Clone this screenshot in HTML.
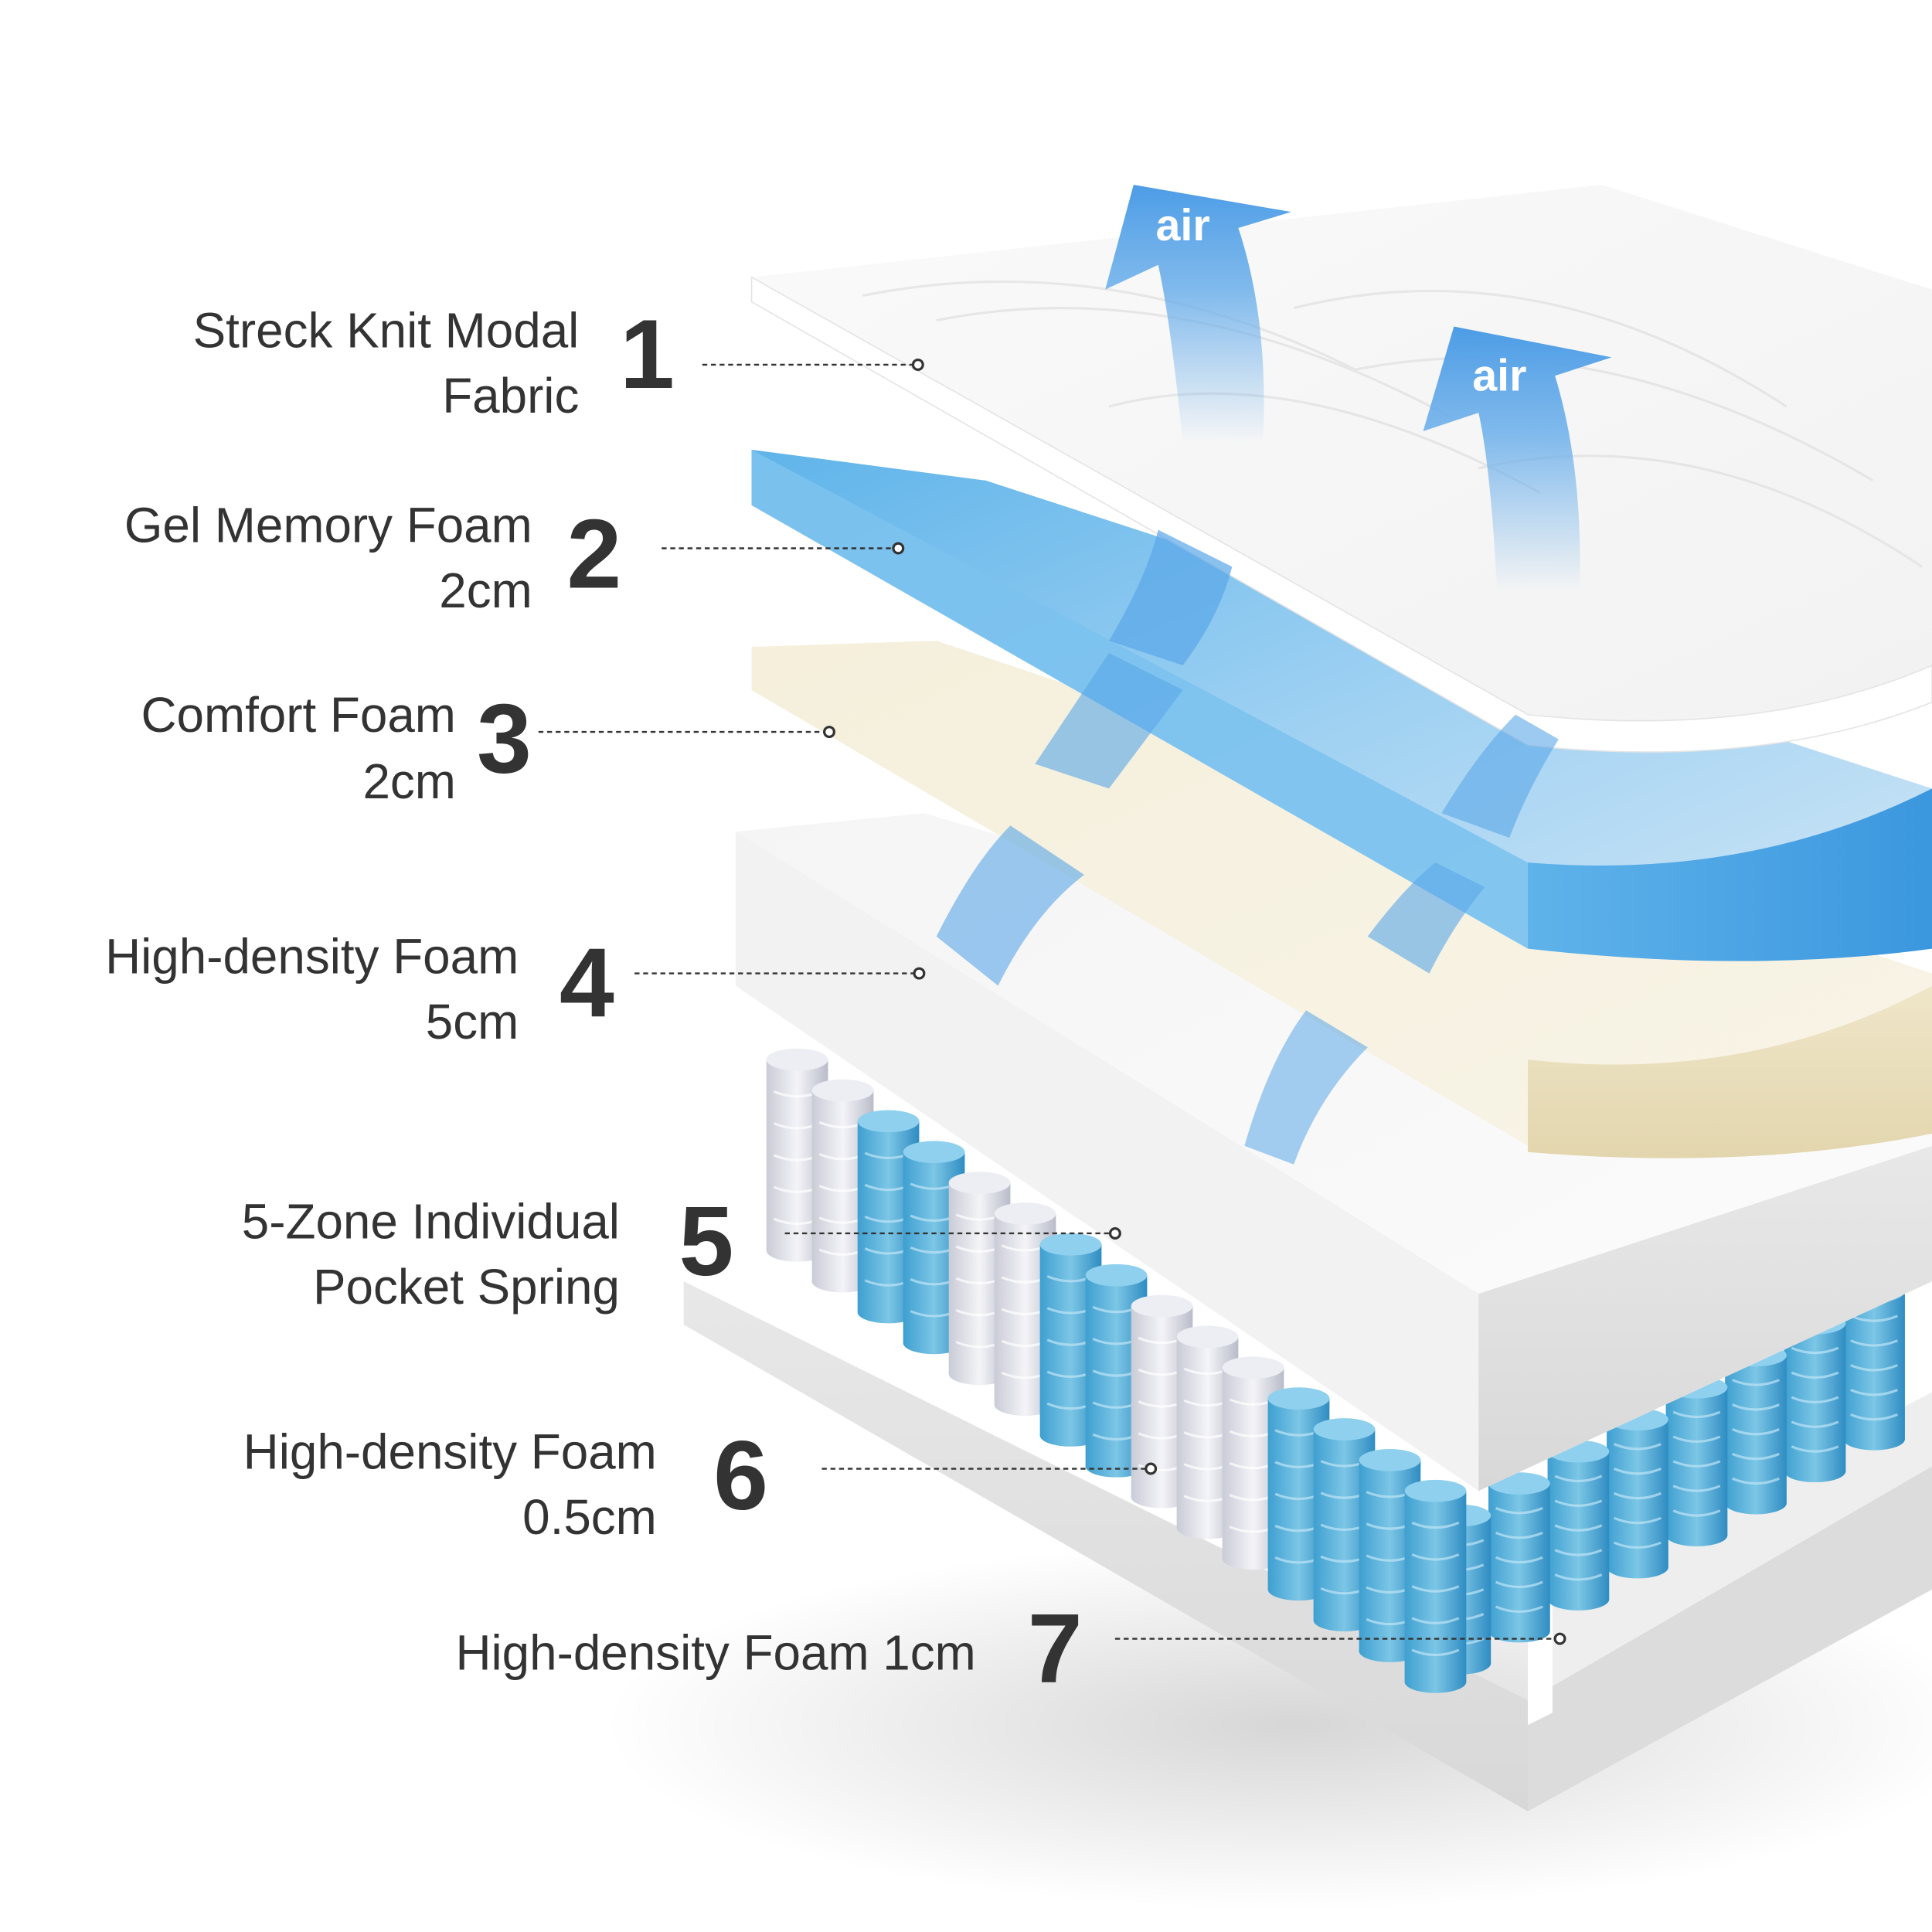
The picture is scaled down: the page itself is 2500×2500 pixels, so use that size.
<!DOCTYPE html>
<html><head><meta charset="utf-8"><style>
html,body{margin:0;padding:0;background:#fff}
svg{display:block}
text{font-family:"Liberation Sans",sans-serif}
</style></head><body>
<svg id="s" width="2500" height="2500" viewBox="0 0 1568 1568" xmlns="http://www.w3.org/2000/svg">
<defs>
<radialGradient id="sh" cx="0.5" cy="0.5" r="0.5"><stop offset="0" stop-color="#000" stop-opacity="0.16"/><stop offset="1" stop-color="#000" stop-opacity="0"/></radialGradient>
<linearGradient id="blueTop" x1="0" y1="0" x2="1" y2="1"><stop offset="0" stop-color="#5fb4ea"/><stop offset="0.5" stop-color="#9dd0f2"/><stop offset="1" stop-color="#cfe6f6"/></linearGradient>
<linearGradient id="blueEdge" x1="0" y1="0" x2="1" y2="0"><stop offset="0" stop-color="#5fb3ea"/><stop offset="1" stop-color="#3b97de"/></linearGradient>
<linearGradient id="cream" x1="0" y1="0" x2="1" y2="1"><stop offset="0" stop-color="#f5efdc"/><stop offset="1" stop-color="#f8f4e6"/></linearGradient>
<linearGradient id="creamEdge" x1="0" y1="0" x2="0" y2="1"><stop offset="0" stop-color="#efe6c9"/><stop offset="1" stop-color="#e3d6ae"/></linearGradient>
<linearGradient id="foamTop" x1="0" y1="0" x2="1" y2="1"><stop offset="0" stop-color="#f5f5f5"/><stop offset="1" stop-color="#fcfcfc"/></linearGradient>
<linearGradient id="foamSide" x1="0" y1="0" x2="0" y2="1"><stop offset="0" stop-color="#e8e8e8"/><stop offset="1" stop-color="#d8d8d8"/></linearGradient>
<linearGradient id="fabric" x1="0" y1="0" x2="1" y2="1"><stop offset="0" stop-color="#fafafa"/><stop offset="1" stop-color="#f2f2f2"/></linearGradient>
<linearGradient id="cylB" x1="0" y1="0" x2="1" y2="0"><stop offset="0" stop-color="#3e9fd0"/><stop offset="0.5" stop-color="#7cc6e6"/><stop offset="1" stop-color="#2f8cc2"/></linearGradient>
<linearGradient id="cylW" x1="0" y1="0" x2="1" y2="0"><stop offset="0" stop-color="#c9cbd6"/><stop offset="0.5" stop-color="#f4f4f8"/><stop offset="1" stop-color="#b9bcc9"/></linearGradient>
<linearGradient id="air" x1="0" y1="1" x2="0" y2="0"><stop offset="0" stop-color="#6aaeea" stop-opacity="0"/><stop offset="0.6" stop-color="#6aaeea" stop-opacity="0.85"/><stop offset="1" stop-color="#4c9ce6"/></linearGradient>
</defs>
<rect width="1568" height="1568" fill="#fff"/>
<ellipse cx="1050" cy="1400" rx="560" ry="150" fill="url(#sh)"/>
<polygon points="555,1040 1240,1380 1568,1190 1568,1290 1240,1470 555,1075" fill="#dcdcdc"/>
<polygon points="555,1040 1240,1380 1240,1470 555,1075" fill="url(#foamSide)"/>
<polygon points="1240,1300 1568,1130 1568,1190 1240,1380" fill="#eee"/>
<polygon points="1240,1300 1260,1290 1260,1390 1240,1400" fill="#fff"/>
<g id="springs"></g>
<polygon points="597,675 750,660 1568,900 1568,1040 1200,1210 597,800" fill="url(#foamTop)"/>
<polygon points="597,675 1200,1050 1200,1210 597,800" fill="#f2f2f2"/>
<polygon points="1200,1050 1568,930 1568,1040 1200,1210" fill="url(#foamSide)"/>
<polygon points="610,525 760,520 1568,790 1568,920 1240,930 610,560" fill="url(#cream)"/>
<path d="M1240,860 Q1420,880 1568,800 L1568,920 Q1420,950 1240,935 Z" fill="url(#creamEdge)"/>
<polygon points="610,365 800,390 1568,640 1568,770 1240,770 610,410" fill="url(#blueTop)"/>
<polygon points="610,365 1240,700 1240,770 610,410" fill="#7cc2ee" opacity="0.9"/>
<path d="M1240,700 Q1420,715 1568,640 L1568,770 Q1420,790 1240,770 Z" fill="url(#blueEdge)"/>
<path d="M610,225 L1300,150 L1568,235 L1568,540 Q1430,600 1240,580 Z" fill="url(#fabric)"/>
<path d="M610,225 L1240,580 Q1430,600 1568,540 L1568,570 Q1430,625 1240,605 L610,245 Z" fill="#fff" stroke="#e4e4e4" stroke-width="1"/>
<g stroke="#e2e2e2" stroke-width="2" fill="none" opacity="0.8">
<path d="M700,240 Q900,200 1100,300"/><path d="M760,260 Q960,220 1180,340"/><path d="M1050,250 Q1250,200 1450,330"/><path d="M1100,300 Q1300,260 1520,390"/><path d="M1200,380 Q1380,340 1560,460"/><path d="M900,330 Q1050,290 1250,400"/></g>
<g>
<path d="M960,360 Q950,260 940,215 L897,235 L920,150 L1048,172 L1005,185 Q1030,260 1025,360 Z" fill="url(#air)"/>
<path d="M1215,480 Q1210,380 1200,335 L1155,350 L1180,265 L1308,290 L1262,305 Q1285,380 1282,480 Z" fill="url(#air)"/>
<path d="M900,520 Q930,470 940,430 L1000,460 Q990,500 960,540 Z" fill="#5aa6e8" opacity="0.7"/>
<path d="M840,620 Q880,560 900,530 L960,560 Q930,600 900,640 Z" fill="#5aa6e8" opacity="0.6"/>
<path d="M760,760 Q790,700 820,670 L880,710 Q840,740 810,800 Z" fill="#5aa6e8" opacity="0.6"/>
<path d="M1170,660 Q1200,610 1230,580 L1265,600 Q1240,640 1225,680 Z" fill="#5aa6e8" opacity="0.6"/>
<path d="M1110,760 Q1140,720 1165,700 L1205,720 Q1180,750 1160,790 Z" fill="#5aa6e8" opacity="0.6"/>
<path d="M1010,930 Q1030,860 1060,820 L1110,850 Q1070,890 1050,945 Z" fill="#5aa6e8" opacity="0.55"/>
<text x="960" y="195" font-size="36" font-weight="bold" fill="#fff" text-anchor="middle">air</text>
<text x="1217" y="317" font-size="36" font-weight="bold" fill="#fff" text-anchor="middle">air</text>
</g>
<g fill="#333" font-size="40" text-anchor="end">
<text x="470" y="282">Streck Knit Modal</text><text x="470" y="335">Fabric</text>
<text x="432" y="440">Gel Memory Foam</text><text x="432" y="493">2cm</text>
<text x="370" y="594">Comfort Foam</text><text x="370" y="648">2cm</text>
<text x="421" y="790">High-density Foam</text><text x="421" y="843">5cm</text>
<text x="503" y="1005">5-Zone Individual</text><text x="503" y="1058">Pocket Spring</text>
<text x="533" y="1192">High-density Foam</text><text x="533" y="1245">0.5cm</text>
<text x="792" y="1355">High-density Foam 1cm</text>
</g>
<g fill="#333" font-size="80" font-weight="bold">
<text x="503" y="315">1</text><text x="460" y="477">2</text><text x="387" y="627">3</text><text x="454" y="825">4</text><text x="551" y="1035">5</text><text x="579" y="1225">6</text><text x="834" y="1365">7</text>
</g>
<g stroke="#333" stroke-width="1.5" stroke-dasharray="4,3" fill="none">
<line x1="570" y1="296" x2="741" y2="296"/><line x1="537" y1="445" x2="725" y2="445"/><line x1="437" y1="594" x2="669" y2="594"/><line x1="515" y1="790" x2="742" y2="790"/><line x1="637" y1="1001" x2="901" y2="1001"/><line x1="667" y1="1192" x2="930" y2="1192"/><line x1="905" y1="1330" x2="1262" y2="1330"/>
</g>
<g stroke="#333" stroke-width="2" fill="#fff">
<circle cx="745" cy="296" r="4"/><circle cx="729" cy="445" r="4"/><circle cx="673" cy="594" r="4"/><circle cx="746" cy="790" r="4"/><circle cx="905" cy="1001" r="4"/><circle cx="934" cy="1192" r="4"/><circle cx="1266" cy="1330" r="4"/>
</g>
</svg>
<script>
(function(){
var g=document.getElementById('springs'),h='';
function cyl(x,y,b,hh){
 var f=b?'url(#cylB)':'url(#cylW)',tc=b?'#8fd0ee':'#eceef4';
 var s='<rect x="'+x+'" y="'+y+'" width="50" height="'+hh+'" fill="'+f+'"/>'+
 '<ellipse cx="'+(x+25)+'" cy="'+(y+hh)+'" rx="25" ry="9" fill="'+f+'"/>'+
 '<ellipse cx="'+(x+25)+'" cy="'+y+'" rx="25" ry="9" fill="'+tc+'"/>';
 for(var k=1;k<6;k++){s+='<path d="M'+(x+6)+','+(y+k*hh/6)+' Q'+(x+25)+','+(y+k*hh/6+8)+' '+(x+44)+','+(y+k*hh/6)+'" stroke="'+(b?'#bfe4f5':'#ffffff')+'" stroke-width="2" fill="none" opacity="0.7"/>';}
 return s;}
for(var j=7;j>=0;j--){h+=cyl(1160+j*48,1230-j*26,true,120);}
var pat=[0,0,1,1,0,0,1,1,0,0,0,1,1,1,1,1];
for(var i=0;i<15;i++){h+=cyl(622+i*37,860+i*25,pat[i]==1,155);}
g.innerHTML=h;
})();
</script>
</body></html>
